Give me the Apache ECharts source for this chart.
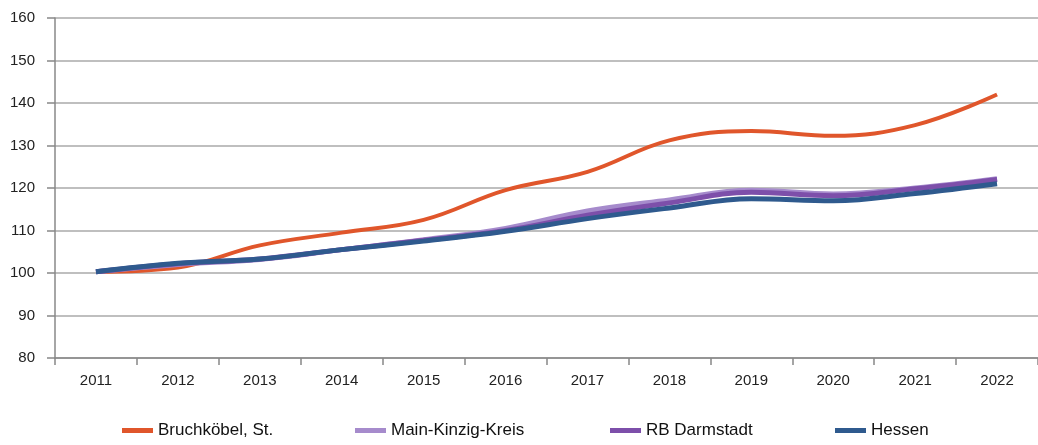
<!DOCTYPE html>
<html><head><meta charset="utf-8">
<script src="https://cdn.jsdelivr.net/npm/echarts@6/dist/echarts.min.js"></script>
<style>html,body{margin:0;padding:0;background:#fff}#c{width:1038px;height:445px}</style>
</head><body><div id="c"></div>
<script>
const years = ['2011','2012','2013','2014','2015','2016','2017','2018','2019','2020','2021','2022'];
const bruchkoebel = [100.3, 101.3, 106.5, 109.5, 112.5, 119.5, 123.8, 131.2, 133.4, 132.3, 134.8, 142.0];
const mainKinzig = [100.3, 102.0, 103.2, 105.5, 107.8, 110.5, 114.6, 117.2, 119.5, 118.6, 120.0, 122.2];
const rbDarmstadt = [100.3, 102.2, 103.3, 105.5, 107.7, 110.0, 113.6, 116.5, 119.0, 118.2, 119.8, 122.0];
const hessen = [100.3, 102.3, 103.3, 105.5, 107.5, 109.8, 112.8, 115.3, 117.5, 117.0, 118.7, 121.0];
const names = ['Bruchköbel, St.', 'Main-Kinzig-Kreis', 'RB Darmstadt', 'Hessen'];
const colors = ['#E0562B', '#A68BCC', '#7D4FAA', '#2F5A8E'];

const chart = echarts.init(document.getElementById('c'));
const font = '"Liberation Sans", Arial, sans-serif';
const legendLeft = [122, 355, 610, 835];
chart.setOption({
  animation: false,
  grid: {left: 55, right: 0, top: 18, bottom: 87},
  legend: names.map((n, i) => ({
    data: [n], left: legendLeft[i], top: 422, itemWidth: 31, itemHeight: 5,
    icon: 'rect', itemGap: 0, padding: 0,
    textStyle: {fontFamily: font, fontSize: 17, color: '#111'}
  })),
  xAxis: {
    type: 'category', data: years, boundaryGap: true,
    axisLine: {lineStyle: {color: '#888', width: 1.5}},
    axisTick: {show: true, length: 7, lineStyle: {color: '#888', width: 1.5}},
    axisLabel: {fontFamily: font, fontSize: 15, color: '#222', margin: 15}
  },
  yAxis: {
    type: 'value', min: 80, max: 160, interval: 10,
    axisLine: {show: true, lineStyle: {color: '#888', width: 1.5}},
    axisTick: {show: true, length: 8, lineStyle: {color: '#888', width: 1.5}},
    axisLabel: {fontFamily: font, fontSize: 15, color: '#222', margin: 20},
    splitLine: {lineStyle: {color: '#aaa', width: 1.5}}
  },
  series: [
    {name: names[0], type: 'line', data: bruchkoebel, smooth: 0.4, symbol: 'none', lineStyle: {width: 4, color: colors[0]}, itemStyle: {color: colors[0]}},
    {name: names[1], type: 'line', data: mainKinzig, smooth: 0.4, symbol: 'none', lineStyle: {width: 5, color: colors[1]}, itemStyle: {color: colors[1]}},
    {name: names[2], type: 'line', data: rbDarmstadt, smooth: 0.4, symbol: 'none', lineStyle: {width: 5, color: colors[2]}, itemStyle: {color: colors[2]}},
    {name: names[3], type: 'line', data: hessen, smooth: 0.4, symbol: 'none', lineStyle: {width: 5, color: colors[3]}, itemStyle: {color: colors[3]}}
  ]
});
</script></body></html>
